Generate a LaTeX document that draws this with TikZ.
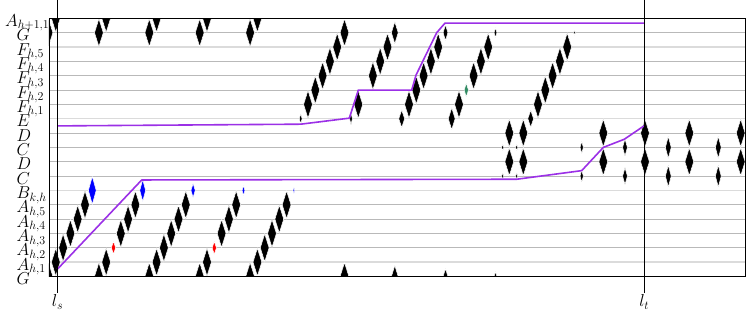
\documentclass[tikz,border=0pt]{standalone}
\usetikzlibrary{shapes.geometric}
\definecolor{levelviolet}{RGB}{155,48,230}
\definecolor{gemgreen}{RGB}{50,140,100}

\begin{document}
\begin{tikzpicture}[
    x=1pt, y=14.34pt,
    every node/.style={font=\fontsize{16.5}{18}\selectfont},
    rowline/.style={gray!55,line width=0.7pt},
    firstline/.style={gray!28,line width=1.4pt},
    gem/.style={diamond,fill=black,draw=white,line width=0.5pt,
                inner sep=0pt,minimum width=9pt,minimum height=28pt},
    rowlabel/.style={anchor=base west,inner sep=0pt,yshift=-8pt},
    level/.style={levelviolet,line width=1.6pt,line join=round},
    marker/.style={black,line width=0.6pt}
]
\useasboundingbox (-57,-2.824) rectangle (690,19.28);

% grid rows
\foreach \r in {1,...,17}{
  \pgfmathtruncatemacro{\m}{mod(\r,5)}
  \ifnum\m=1 \draw[firstline] (-8,\r) -- (688.5,\r);
  \else \draw[rowline] (-8,\r) -- (688.5,\r); \fi
}

% row labels
\foreach \r/\t in {0/G,1/{A_{h,1}},2/{A_{h,2}},3/{A_{h,3}},4/{A_{h,4}},
    5/{A_{h,5}},6/{B_{k,h}},7/C,8/D,9/C,10/D,11/E,12/{F_{h,1}},
    13/{F_{h,2}},14/{F_{h,3}},15/{F_{h,4}},16/{F_{h,5}},17/G}
  \node[rowlabel] (lab\r) at (-40.5,\r) {$\t$};
\node[rowlabel,anchor=base east] (lab18) at (-7.5,18) {$A_{h+1,1}$};

\begin{scope}
\clip (-8,0) rectangle (688.5,18);
% A staircases
\foreach \k/\bw/\bh/\hasred in {0/8/28/0,1/6/22/1,2/4.5/14/0,3/3/10/1,4/2/6/0}{
  \pgfmathsetmacro{\xo}{-8.5+50.4*\k}
  \foreach \r in {0,1,3,4,5}
    \node[gem] (a\k-\r) at (\xo+7.3*\r,\r) {};
  \ifnum\hasred=1
    \node[gem,fill=red,minimum width=4.5pt,minimum height=13pt] (a\k-2) at (\xo+14.6,2) {};
  \else
    \node[gem] (a\k-2) at (\xo+14.6,2) {};
  \fi
  \node[gem,fill=blue,minimum width=\bw pt,minimum height=\bh pt] (b\k) at (\xo+43.8,6) {};
  \node[gem] (g\k) at (\xo,17) {};
  \node[gem] (n\k) at (\xo+7.3,18) {};
}

% F staircases
\foreach \j/\xe/\ew/\eh/\tw/\th/\rows in {1/243.7/3/10/9/28/{12,...,16},
    2/294/3/12/7/22/{12,14,15,16},3/344.7/6/18/5/16/{12,...,16},
    4/394.7/7/22/3/10/{12,14,15,16},5/473.7/6/17/2/5/{12,...,16}}{
  \node[gem,minimum width=\ew pt,minimum height=\eh pt] (e\j) at (\xe,11) {};
  \foreach \r in \rows
    \node[gem] (f\j-\r) at (\xe+7.3*\r-80.3,\r) {};
  \node[gem,minimum width=\tw pt,minimum height=\th pt] (t\j) at (\xe+43.8,17) {};
}
\node[gem,fill=gemgreen,minimum width=4.5pt,minimum height=14pt] (f4-13) at (409.3,13) {};
\foreach \j/\xs/\tw/\th in {1/287.5/9/28,2/337.8/7/22,3/388.5/5/16,4/438.5/3/10}
  \node[gem,minimum width=\tw pt,minimum height=\th pt] (s\j) at (\xs,0) {};

% C/D block
\foreach \x in {452.3,466.3,546.3,588,632.3,683.7}{
  \node[gem] (d\x-10) at (\x,10) {};
  \node[gem] (d\x-8) at (\x,8) {};
}
\foreach \x/\w/\h in {445.7/2.5/6,459.7/2.5/6,524.7/3.5/12,568/5/17,611.3/6/22,661.3/6/22}{
  \node[gem,minimum width=\w pt,minimum height=\h pt] (c\x-9) at (\x,9) {};
  \node[gem,minimum width=\w pt,minimum height=\h pt] (c\x-7) at (\x,7) {};
}
\end{scope}

% level curves
\draw[level] (0.5,10.5) -- (243.7,10.62) -- (292.3,11.04) -- (301.3,13)
  -- (354.7,13) -- (359,14.04) -- (379.7,17) -- (388,17.67) -- (587,17.67);
\draw[level] (0.3,0.5) -- (84.7,6.73) -- (459.7,6.78) -- (524.7,7.38)
  -- (546.3,9) -- (567.3,9.57) -- (587,10.5);

% frame and time marks
\draw[line width=0.8pt] (-8,0) rectangle (688.5,18);
\coordinate (lstop) at (0.5,19.28);
\coordinate (lttop) at (587.3,19.28);
\node[anchor=base,inner sep=1pt] (ls) at (0.5,-2.09) {$l_s$};
\node[anchor=base,inner sep=1pt] (lt) at (587.3,-2.09) {$l_t$};
\draw[marker] (lstop) -- (ls.north);
\draw[marker] (lttop) -- (lt.north);
\end{tikzpicture}
\end{document}
